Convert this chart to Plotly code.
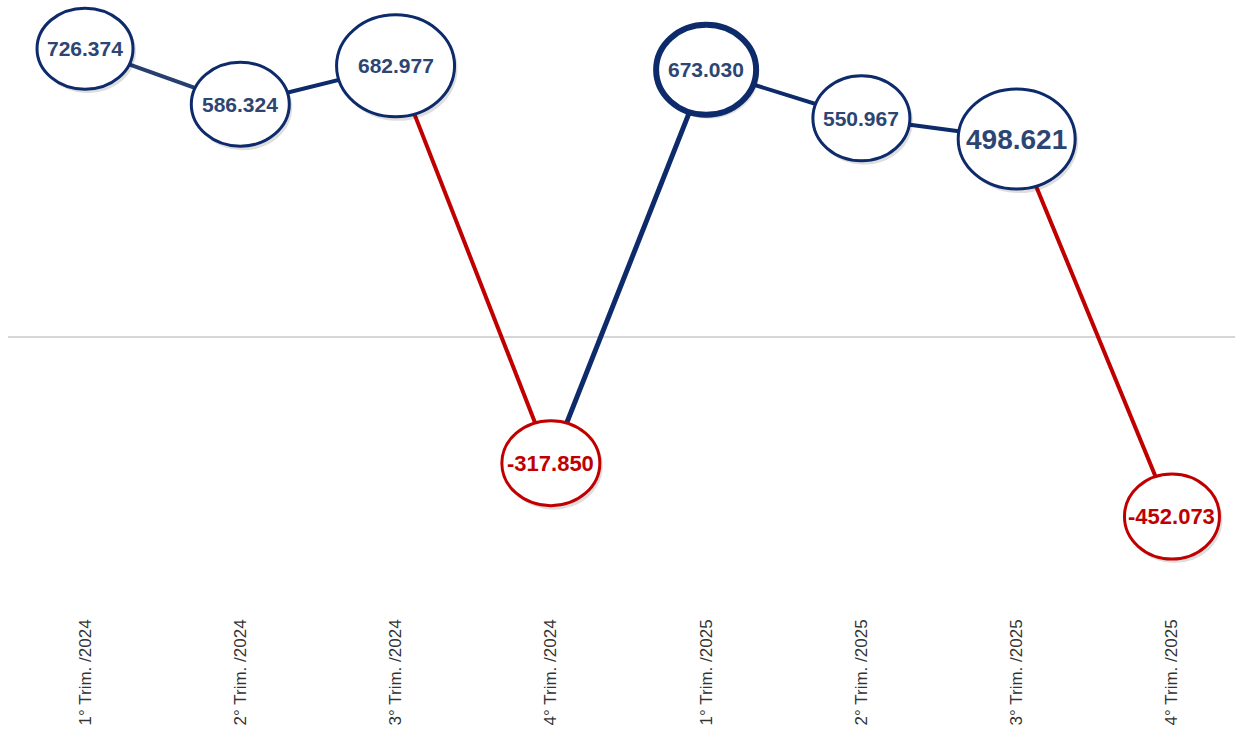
import plotly.graph_objects as go

categories = ["1° Trim. /2024", "2° Trim. /2024", "3° Trim. /2024", "4° Trim. /2024",
              "1° Trim. /2025", "2° Trim. /2025", "3° Trim. /2025", "4° Trim. /2025"]
values = [726.374, 586.324, 682.977, -317.850, 673.030, 550.967, 498.621, -452.073]
labels = ["726.374", "586.324", "682.977", "-317.850", "673.030", "550.967", "498.621", "-452.073"]

# style lists (pixel sizes of the ellipse markers, fonts, borders)
ell_w = [96, 98, 118, 98, 100, 97, 117, 95]
ell_h = [81, 84, 102, 85, 90, 85, 100, 85]
font_sz = [21, 21, 21, 22, 21, 21, 28, 22]
border_w = [3, 3, 3, 3, 6, 3, 3, 3]
seg_w = [4, 4, 4, 5, 4, 4, 4]

NAVY = "#0d2a6b"
NAVY_TXT = "#2d4573"
RED = "#c00000"
FONT = "Liberation Sans, Arial, sans-serif"

fig = go.Figure()

for i in range(len(values) - 1):
    col = RED if values[i + 1] < 0 else NAVY
    if i == 0:
        col = "#263f6e"
    fig.add_trace(go.Scatter(
        x=[categories[i], categories[i + 1]], y=[values[i], values[i + 1]],
        mode="lines", line=dict(color=col, width=seg_w[i]),
        hoverinfo="skip", showlegend=False))

fig.add_trace(go.Scatter(x=categories, y=values, mode="markers",
                         marker=dict(size=1, opacity=0), showlegend=False,
                         hovertemplate="%{x}: %{y:.3f}<extra></extra>"))

shapes = []
annotations = []
for i, (c, v) in enumerate(zip(categories, values)):
    col = RED if v < 0 else NAVY
    hw, hh = ell_w[i] / 2, ell_h[i] / 2
    shapes.append(dict(type="circle", xref="x", yref="y", xsizemode="pixel", ysizemode="pixel",
                       xanchor=i, yanchor=v, x0=-hw + 2, x1=hw + 3, y0=-hh - 4, y1=hh - 2,
                       fillcolor="rgba(0,0,0,0.13)", line=dict(width=0), layer="above"))
    shapes.append(dict(type="circle", xref="x", yref="y", xsizemode="pixel", ysizemode="pixel",
                       xanchor=i, yanchor=v, x0=-hw, x1=hw, y0=-hh, y1=hh,
                       fillcolor="white", line=dict(color=col, width=border_w[i]), layer="above"))
    annotations.append(dict(x=i, y=v, xref="x", yref="y", text="<b>%s</b>" % labels[i],
                            showarrow=False,
                            font=dict(family=FONT, size=font_sz[i],
                                      color=RED if v < 0 else NAVY_TXT)))

fig.update_layout(
    width=1235, height=730,
    margin=dict(l=8, r=0, t=0, b=115),
    paper_bgcolor="white", plot_bgcolor="white",
    shapes=shapes, annotations=annotations,
    showlegend=False,
    xaxis=dict(type="category", range=[-0.496, 7.406], tickangle=-90,
               showgrid=False, showline=False, zeroline=False, ticks="",
               tickfont=dict(family=FONT, size=17, color="#333333")),
    yaxis=dict(range=[-700.3, 848.9], showgrid=False, showticklabels=False,
               zeroline=True, zerolinecolor="#d6d6d6", zerolinewidth=1.5,
               showline=False, ticks=""),
)

fig.write_html("out.html", config={"displayModeBar": False},
               post_script="document.body.style.margin='0';document.body.style.overflow='hidden';")
